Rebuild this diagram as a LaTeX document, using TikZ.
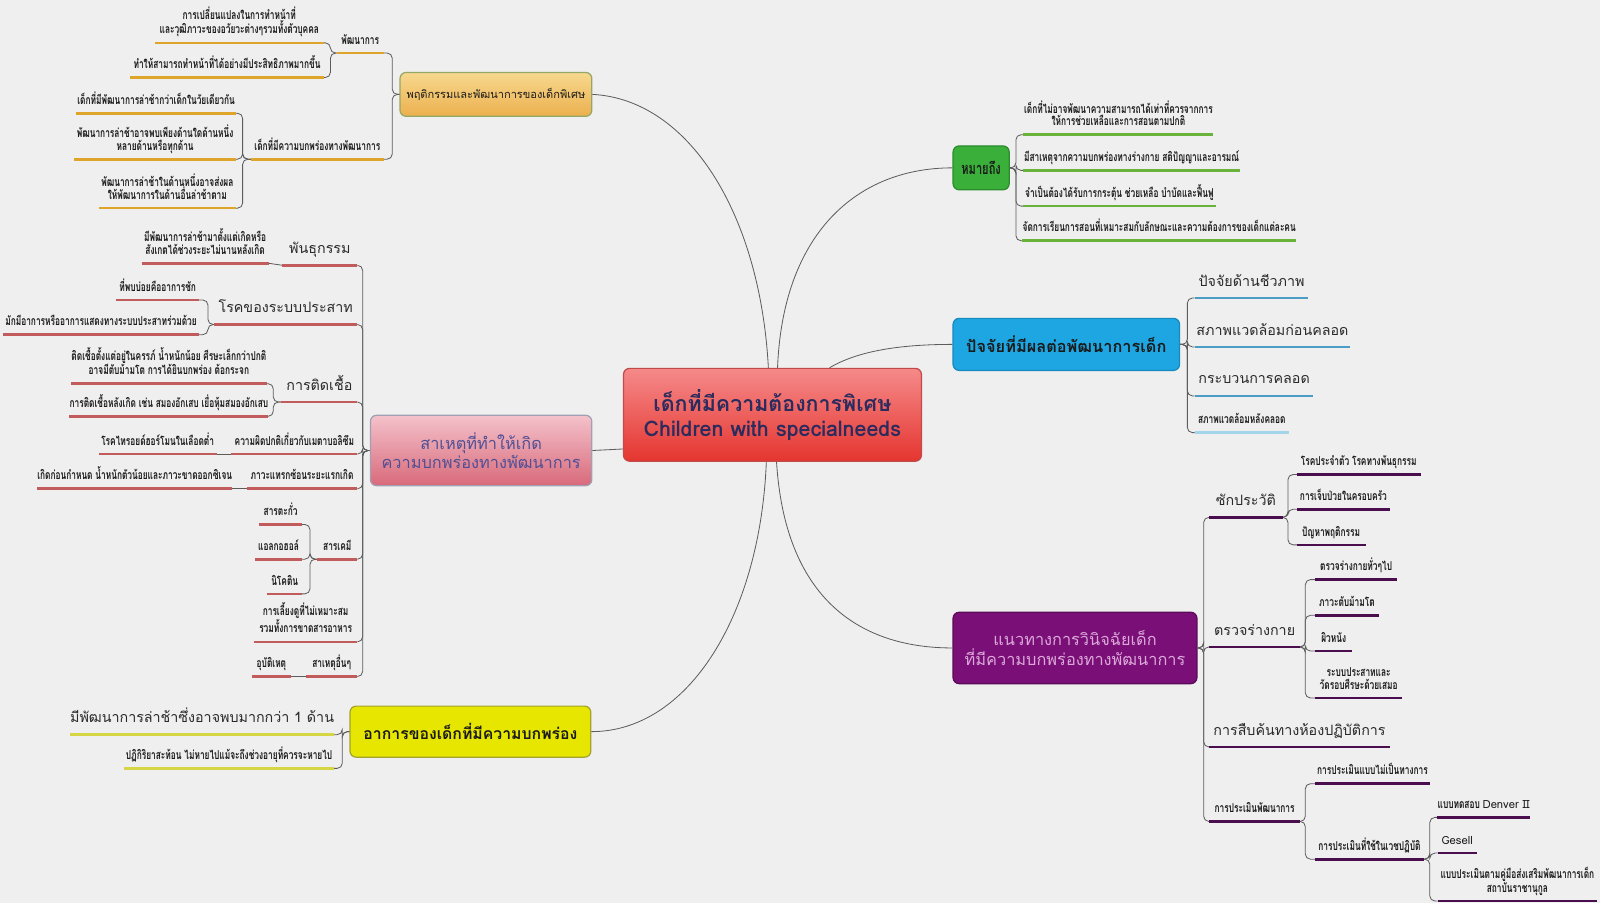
\documentclass[tikz,border=0pt]{standalone}
\usepackage{fontspec}
\setmainfont[Script=Thai]{Loma}
\newfontfamily\thaic[Script=Thai,FakeStretch=0.68]{Loma}
\definecolor{bgc}{HTML}{EFEFEF}
\definecolor{wire}{HTML}{5C5C5C}
\definecolor{ink}{HTML}{1A1A1A}
\definecolor{ink2}{HTML}{2A2A2A}
\definecolor{navy}{HTML}{2B2B5E}
\definecolor{redt}{HTML}{F58A8A}
\definecolor{redb}{HTML}{E5352F}
\definecolor{redd}{HTML}{C24A48}
\definecolor{orgt}{HTML}{F7D88E}
\definecolor{orgb}{HTML}{ECB04E}
\definecolor{olive}{HTML}{93A766}
\definecolor{pnkt}{HTML}{F4C2CB}
\definecolor{pnkb}{HTML}{D8697A}
\definecolor{pnkd}{HTML}{A0A0B4}
\definecolor{slate}{HTML}{4E4F95}
\definecolor{yel}{HTML}{E6E600}
\definecolor{yeld}{HTML}{A3A32E}
\definecolor{grn}{HTML}{3AAF3A}
\definecolor{grnd}{HTML}{2C8C2C}
\definecolor{sky}{HTML}{1DA6E1}
\definecolor{skyd}{HTML}{1689BE}
\definecolor{plum}{HTML}{7A1077}
\definecolor{plumd}{HTML}{5A0A58}
\definecolor{lilac}{HTML}{DCA8DA}
\definecolor{uorg}{HTML}{DFA42A}
\definecolor{upnk}{HTML}{C25C5C}
\definecolor{uyel}{HTML}{D6D645}
\definecolor{ugrn}{HTML}{6AB33B}
\definecolor{usky}{HTML}{4C9DC5}
\definecolor{usky2}{HTML}{A3D5EA}
\definecolor{uplm}{HTML}{4A0E4E}
\tikzset{
  hub/.style={rounded corners=6pt, align=center, line width=1.2pt, inner sep=2pt},
  leaf/.style={anchor=south, align=center, inner xsep=0pt, inner ysep=6pt, text depth=2.5pt,
               text=ink, font=\thaic\bfseries\fontsize{12}{12.5}\selectfont},
  bigleaf/.style={leaf, inner ysep=8pt, text depth=3.5pt, text=ink2, font=\fontsize{14}{16}\selectfont},
  link/.style={draw=wire, line width=0.8pt, rounded corners=5pt},
  curve/.style={draw=wire, line width=0.8pt},
  uline/.style={line width=2.6pt},
}

\begin{document}
\begin{tikzpicture}[x=1pt,y=-1pt]
  \fill[bgc] (0,0) rectangle (1568,885);
  \useasboundingbox (0,0) rectangle (1568,885);
  % --- centre ---
  \node[hub, top color=redt, bottom color=redb, draw=redd, minimum width=292, minimum height=91,
        text=navy, font=\bfseries\fontsize{21}{25}\selectfont] (ctr) at (757,406.5)
    {เด็กที่มีความต้องการพิเศษ\\Children with specialneeds};
  % --- behaviour (orange) ---
  \node[hub, top color=orgt, bottom color=orgb, draw=olive, minimum width=188, minimum height=43,
        text=ink, font=\fontsize{10.8}{13}\selectfont] (beh) at (486,92.5)
    {พฤติกรรมและพัฒนาการของเด็กพิเศษ};
  \node[leaf, minimum width=46] (behA) at (353,52) {พัฒนาการ};
  \node[leaf, minimum width=165] (beh1) at (234.5,42) {การเปลี่ยนแปลงในการทำหน้าที่\\และวุฒิภาวะของอวัยวะต่างๆรวมทั้งตัวบุคคล};
  \node[leaf, minimum width=189] (beh2) at (222.5,76) {ทำให้สามารถทำหน้าที่ได้อย่างมีประสิทธิภาพมากขึ้น};
  \node[leaf, minimum width=130] (behB) at (311,156) {เด็กที่มีความบกพร่องทางพัฒนาการ};
  \node[leaf, minimum width=156] (beh3) at (153,111) {เด็กที่มีพัฒนาการล่าช้ากว่าเด็กในวัยเดียวกัน};
  \node[leaf, minimum width=158] (beh4) at (152,156) {พัฒนาการล่าช้าอาจพบเพียงด้านใดด้านหนึ่ง\\หลายด้านหรือทุกด้าน};
  \node[leaf, minimum width=134] (beh5) at (164,204) {พัฒนาการล่าช้าในด้านหนึ่งอาจส่งผล\\ให้พัฒนาการในด้านอื่นล่าช้าตาม};
  % --- causes (pink) ---
  \node[hub, top color=pnkt, bottom color=pnkb, draw=pnkd, minimum width=217, minimum height=69,
        text=slate, font=\fontsize{16}{19}\selectfont] (cause) at (471.5,441.5)
    {สาเหตุที่ทำให้เกิด\\ความบกพร่องทางพัฒนาการ};
  \node[bigleaf, minimum width=73] (gen) at (313.5,260) {พันธุกรรม};
  \node[leaf, minimum width=124] (gen1) at (201,258) {มีพัฒนาการล่าช้ามาตั้งแต่เกิดหรือ\\สังเกตได้ช่วงระยะไม่นานหลังเกิด};
  \node[bigleaf, minimum width=140] (nerve) at (280,318) {โรคของระบบประสาท};
  \node[leaf, minimum width=81] (nerve1) at (154.5,294) {ที่พบบ่อยคืออาการชัก};
  \node[leaf, minimum width=192] (nerve2) at (99,328) {มักมีอาการหรืออาการแสดงทางระบบประสาทร่วมด้วย};
  \node[bigleaf, minimum width=74] (inf) at (313,394) {การติดเชื้อ};
  \node[leaf, minimum width=191] (inf1) at (165.5,376) {ติดเชื้อตั้งแต่อยู่ในครรภ์ น้ำหนักน้อย ศีรษะเล็กกว่าปกติ\\อาจมีตับม้ามโต การได้ยินบกพร่อง ต้อกระจก};
  \node[leaf, minimum width=191] (inf2) at (165.5,408) {การติดเชื้อหลังเกิด เช่น สมองอักเสบ เยื่อหุ้มสมองอักเสบ};
  \node[leaf, minimum width=123] (meta) at (288.5,445) {ความผิดปกติเกี่ยวกับเมตาบอลิซึม};
  \node[leaf, minimum width=115] (meta1) at (154.5,445) {โรคไทรอยด์ฮอร์โมนในเลือดต่ำ};
  \node[leaf, minimum width=108] (neo) at (296,479) {ภาวะแทรกซ้อนระยะแรกเกิด};
  \node[leaf, minimum width=190] (neo1) at (132,479) {เกิดก่อนกำหนด น้ำหนักตัวน้อยและภาวะขาดออกซิเจน};
  \node[leaf, minimum width=39] (chem) at (330.5,548) {สารเคมี};
  \node[leaf, minimum width=42] (chem1) at (275,514) {สารตะกั่ว};
  \node[leaf, minimum width=46] (chem2) at (273,548) {แอลกอฮอล์};
  \node[leaf, minimum width=34] (chem3) at (279,582) {นิโคติน};
  \node[leaf, minimum width=101] (care) at (299.5,629) {การเลี้ยงดูที่ไม่เหมาะสม\\รวมทั้งการขาดสารอาหาร};
  \node[leaf, minimum width=50] (oth) at (325,663) {สาเหตุอื่นๆ};
  \node[leaf, minimum width=38] (oth1) at (266,663) {อุบัติเหตุ};
  % --- symptoms (yellow) ---
  \node[hub, fill=yel, draw=yeld, minimum width=236, minimum height=50,
        text=ink, font=\bfseries\fontsize{15.5}{17}\selectfont] (sym) at (461,717)
    {อาการของเด็กที่มีความบกพร่อง};
  \node[bigleaf, minimum width=258] (sym1) at (198,720) {มีพัฒนาการล่าช้าซึ่งอาจพบมากกว่า 1 ด้าน};
  \node[leaf, minimum width=205] (sym2) at (224.5,753) {ปฏิกิริยาสะท้อน ไม่หายไปแม้จะถึงช่วงอายุที่ควรจะหายไป};
  % --- meaning (green) ---
  \node[hub, fill=grn, draw=grnd, minimum width=55, minimum height=43,
        text=ink, font=\thaic\bfseries\fontsize{16}{18}\selectfont] (mean) at (961.5,164.5) {หมายถึง};
  \node[leaf, minimum width=186] (mean1) at (1096,132) {เด็กที่ไม่อาจพัฒนาความสามารถได้เท่าที่ควรจากการ\\ให้การช่วยเหลือและการสอนตามปกติ};
  \node[leaf, minimum width=212] (mean2) at (1109,167) {มีสาเหตุจากความบกพร่องทางร่างกาย สติปัญญาและอารมณ์};
  \node[leaf, minimum width=188] (mean3) at (1097,202) {จำเป็นต้องได้รับการกระตุ้น ช่วยเหลือ บำบัดและฟื้นฟู};
  \node[leaf, minimum width=266] (mean4) at (1136,236) {จัดการเรียนการสอนที่เหมาะสมกับลักษณะและความต้องการของเด็กแต่ละคน};
  % --- factors (blue) ---
  \node[hub, fill=sky, draw=skyd, minimum width=222, minimum height=51,
        text=ink, font=\bfseries\fontsize{16}{18}\selectfont] (fac) at (1045,337.5)
    {ปัจจัยที่มีผลต่อพัฒนาการเด็ก};
  \node[bigleaf, minimum width=111] (fac1) at (1226.5,292) {ปัจจัยด้านชีวภาพ};
  \node[bigleaf, minimum width=152] (fac2) at (1247,340) {สภาพแวดล้อมก่อนคลอด};
  \node[bigleaf, minimum width=116] (fac3) at (1229,388) {กระบวนการคลอด};
  \node[leaf, minimum width=92] (fac4) at (1217,424) {สภาพแวดล้อมหลังคลอด};
  % --- diagnosis (purple) ---
  \node[hub, fill=plum, draw=plumd, minimum width=239, minimum height=70,
        text=lilac, font=\fontsize{16}{19}\selectfont] (diag) at (1053.5,635)
    {แนวทางการวินิจฉัยเด็ก\\ที่มีความบกพร่องทางพัฒนาการ};
  \node[bigleaf, minimum width=72] (his) at (1221,507) {ซักประวัติ};
  \node[leaf, minimum width=121] (his1) at (1331.5,465) {โรคประจำตัว โรคทางพันธุกรรม};
  \node[leaf, minimum width=91] (his2) at (1316.5,499) {การเจ็บป่วยในครอบครัว};
  \node[leaf, minimum width=67] (his3) at (1304.5,534) {ปัญหาพฤติกรรม};
  \node[bigleaf, minimum width=89] (phy) at (1229.5,634) {ตรวจร่างกาย};
  \node[leaf, minimum width=80] (phy1) at (1329,568) {ตรวจร่างกายทั่วๆไป};
  \node[leaf, minimum width=62] (phy2) at (1320,603) {ภาวะตับม้ามโต};
  \node[leaf, minimum width=36] (phy3) at (1307,638) {ผิวหนัง};
  \node[leaf, minimum width=85] (phy4) at (1331.5,684) {ระบบประสาทและ\\วัดรอบศีรษะด้วยเสมอ};
  \node[bigleaf, minimum width=177] (lab) at (1273.5,732) {การสืบค้นทางห้องปฏิบัติการ};
  \node[leaf, minimum width=89] (dev) at (1229.5,805) {การประเมินพัฒนาการ};
  \node[leaf, minimum width=112] (dev1) at (1345,768) {การประเมินแบบไม่เป็นทางการ};
  \node[leaf, minimum width=106] (dev2) at (1342,842) {การประเมินที่ใช้ในเวชปฏิบัติ};
  \node[leaf, minimum width=90] (dev2a) at (1454,801) {แบบทดสอบ {\normalfont\fontsize{11}{12}\selectfont Denver II}};
  \node[leaf, minimum width=38, font=\fontsize{11}{12}\selectfont] (dev2b) at (1428,836) {Gesell};
  \node[leaf, minimum width=156] (dev2c) at (1487,883) {แบบประเมินตามคู่มือส่งเสริมพัฒนาการเด็ก\\สถาบันราชานุกูล};

  % --- branches from the centre ---
  \draw[curve] ([xshift=-4pt]ctr.north) .. controls +(-8,-150) and +(95,5) .. (beh.east);
  \draw[curve] ([yshift=-33.5pt]ctr.west) -- (cause.east);
  \draw[curve] ([xshift=-6pt]ctr.south) .. controls +(-6,150) and +(95,0) .. (sym.east);
  \draw[curve] ([xshift=5pt]ctr.north) .. controls +(5,-130) and +(-95,0) .. (mean.west);
  \draw[curve] ([xshift=56pt]ctr.north) .. controls +(30,-18) and +(-45,0) .. (fac.west);
  \draw[curve] ([xshift=4pt]ctr.south) .. controls +(8,130) and +(-95,0) .. (diag.west);

  % --- brackets ---
  \foreach \c in {behA,behB} \draw[link] (beh.west) -- ++(-7,0) |- (\c.south east);
  \foreach \c in {beh1,beh2} \draw[link] (behA.south west) -- ++(-6,0) |- (\c.south east);
  \foreach \c in {beh3,beh4,beh5} \draw[link] (behB.south west) -- ++(-8,0) |- (\c.south east);
  \foreach \c in {gen,nerve,inf,meta,neo,chem,care,oth} \draw[link] (cause.west) -- ++(-7,0) |- (\c.south east);
  \draw[link] (gen.south west) -- (gen1.south east);
  \foreach \c in {nerve1,nerve2} \draw[link] (nerve.south west) -- ++(-6,0) |- (\c.south east);
  \foreach \c in {inf1,inf2} \draw[link] (inf.south west) -- ++(-8,0) |- (\c.south east);
  \draw[link] (meta.south west) -- (meta1.south east);
  \draw[link] (neo.south west) -- (neo1.south east);
  \foreach \c in {chem1,chem2,chem3} \draw[link] (chem.south west) -- ++(-7,0) |- (\c.south east);
  \draw[link] (oth.south west) -- (oth1.south east);
  \foreach \c in {sym1,sym2} \draw[link] (sym.west) -- ++(-7,0) |- (\c.south east);
  \foreach \c in {mean1,mean2,mean3,mean4} \draw[link] (mean.east) -- ++(6,0) |- (\c.south west);
  \foreach \c in {fac1,fac2,fac3,fac4} \draw[link] (fac.east) -- ++(7,0) |- (\c.south west);
  \foreach \c in {his,phy,lab,dev} \draw[link] (diag.east) -- ++(6,0) |- (\c.south west);
  \foreach \c in {his1,his2,his3} \draw[link] (his.south east) -- ++(5,0) |- (\c.south west);
  \foreach \c in {phy1,phy2,phy3,phy4} \draw[link] (phy.south east) -- ++(5,0) |- (\c.south west);
  \foreach \c in {dev1,dev2} \draw[link] (dev.south east) -- ++(5,0) |- (\c.south west);
  \foreach \c in {dev2a,dev2b,dev2c} \draw[link] (dev2.south east) -- ++(6,0) |- (\c.south west);

  % --- underlines ---
  \foreach \n in {behA,beh1,beh2,behB,beh3,beh4,beh5}
    \draw[uline,uorg] (\n.south west) -- (\n.south east);
  \foreach \n in {gen,gen1,nerve,nerve1,nerve2,inf,inf1,inf2,meta,meta1,neo,neo1,chem,chem1,chem2,chem3,care,oth,oth1}
    \draw[uline,upnk] (\n.south west) -- (\n.south east);
  \foreach \n in {sym1,sym2} \draw[uline,uyel] (\n.south west) -- (\n.south east);
  \foreach \n in {mean1,mean2,mean3,mean4} \draw[uline,ugrn] (\n.south west) -- (\n.south east);
  \foreach \n in {fac1,fac2,fac3} \draw[uline,usky] (\n.south west) -- (\n.south east);
  \draw[uline,usky2] (fac4.south west) -- (fac4.south east);
  \foreach \n in {his,his1,his2,his3,phy,phy1,phy2,phy3,phy4,lab,dev,dev1,dev2,dev2a,dev2b,dev2c}
    \draw[uline,uplm] (\n.south west) -- (\n.south east);
\end{tikzpicture}
\end{document}
